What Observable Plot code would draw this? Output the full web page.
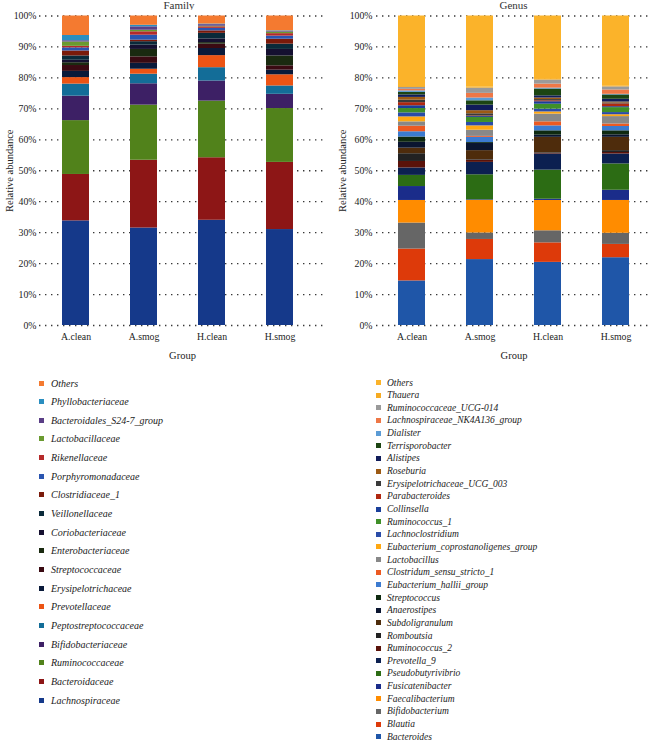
<!DOCTYPE html>
<html>
<head>
<meta charset="utf-8">
<script src="https://cdn.jsdelivr.net/npm/d3@7"></script>
<script src="https://cdn.jsdelivr.net/npm/@observablehq/plot@0.6"></script>
<style>
  body { margin: 0; background: #fff; font-family: "Liberation Serif", "DejaVu Serif", serif; }
  #root { position: relative; width: 652px; height: 744px; overflow: hidden; background: #fff; }
  .panel { position: absolute; top: 0; width: 326px; height: 365px; }
  .title { position: absolute; top: 0; height: 10px; font-size: 11px; line-height: 10px; text-align: center; color: #333; }
  .chart { position: absolute; top: 10px; left: 0; }
  .chart g[aria-label$="axis label"], .chart g[aria-label$="axis label"] text { font-size: 10.5px !important; }
  .item { position: absolute; white-space: nowrap; font-style: italic; color: #222; display: flex; align-items: center; }
  .sw { display: inline-block; flex: none; }
</style>
</head>
<body>
<div id="root">
  <div class="panel" id="left" style="left:0"></div>
  <div class="panel" id="right" style="left:326px"></div>
  <div id="legendL"></div>
  <div id="legendR"></div>
</div>
<script>
// ---------- data ----------
const groups = ["A.clean", "A.smog", "H.clean", "H.smog"];
const yTicks = [0, 10, 20, 30, 40, 50, 60, 70, 80, 90, 100];

// Family level (legend order, top of stack first)
const familyNames = [
  "Others", "Phyllobacteriaceae", "Bacteroidales_S24-7_group", "Lactobacillaceae",
  "Rikenellaceae", "Porphyromonadaceae", "Clostridiaceae_1", "Veillonellaceae",
  "Coriobacteriaceae", "Enterobacteriaceae", "Streptococcaceae", "Erysipelotrichaceae",
  "Prevotellaceae", "Peptostreptococcaceae", "Bifidobacteriaceae", "Ruminococcaceae",
  "Bacteroidaceae", "Lachnospiraceae"
];
const familyColors = [
  "#f47a30", "#2a8ec0", "#5a3e86", "#6a9a30", "#b52a2a", "#2a55b0", "#7a1a0a", "#0a2a3a",
  "#151030", "#1a2a10", "#3a0a12", "#0a1a3a", "#ec5414", "#136d98", "#3d2065", "#51821b",
  "#8d1616", "#15398a"
];
const famAclean = [6.3, 1.7, 0.4, 1.4, 0.5, 1.0, 1.6, 1.4, 0.8, 0.9, 1.9, 2.0, 2.1, 3.9, 7.9, 17.4, 15.0, 33.8];
const famAsmog  = [3.0, 0.5, 1.1, 0.5, 1.1, 1.6, 0.5, 1.1, 1.4, 2.4, 2.1, 1.9, 1.6, 3.1, 6.9, 17.8, 21.9, 31.5];
const famHclean = [2.6, 0.2, 0.5, 0.2, 0.5, 0.8, 0.8, 1.8, 1.2, 0.5, 1.4, 2.3, 3.9, 4.3, 6.5, 18.3, 20.2, 34.0];
const famHsmog  = [4.8, 0.2, 0.2, 0.5, 0.8, 1.0, 1.6, 1.7, 2.1, 3.2, 1.4, 1.5, 3.6, 2.7, 4.6, 17.4, 21.7, 31.0];

// Genus level (legend order, top of stack first)
const genusNames = [
  "Others", "Thauera", "Ruminococcaceae_UCG-014", "Lachnospiraceae_NK4A136_group", "Dialister",
  "Terrisporobacter", "Alistipes", "Roseburia", "Erysipelotrichaceae_UCG_003", "Parabacteroides",
  "Collinsella", "Ruminococcus_1", "Lachnoclostridium", "Eubacterium_coprostanoligenes_group",
  "Lactobacillus", "Clostridum_sensu_stricto_1", "Eubacterium_hallii_group", "Streptococcus",
  "Anaerostipes", "Subdoligranulum", "Romboutsia", "Ruminococcus_2", "Prevotella_9",
  "Pseudobutyrivibrio", "Fusicatenibacter", "Faecalibacterium", "Bifidobacterium", "Blautia",
  "Bacteroides"
];
const genusColors = [
  "#fbb32a", "#f6ab22", "#9a9a9a", "#ee7746", "#5b9bd5", "#1c4513", "#101c5a", "#9c5a14",
  "#3a3a3a", "#b02810", "#1a3f9a", "#3f8f28", "#2a4ca8", "#ffa812", "#888888", "#ec5a22",
  "#3c7bd0", "#0f2a10", "#0a1530", "#4e2c0c", "#222222", "#5a120a", "#0c2050", "#2c6c14",
  "#1a2c8a", "#ff8c00", "#666666", "#dd3a0a", "#1f56a8"
];
const genAclean = [22.8, 0.3, 0.6, 0.5, 0.5, 0.8, 0.8, 0.9, 0.8, 1.0, 0.9, 1.4, 1.3, 1.6, 1.4, 1.8, 1.7, 1.7, 1.9, 1.8, 2.5, 2.1, 2.4, 3.6, 4.5, 7.3, 8.4, 10.3, 14.4];
const genAsmog  = [23.0, 0.3, 1.7, 1.5, 0.9, 1.4, 1.8, 1.0, 0.7, 0.2, 0.3, 1.6, 1.1, 1.4, 2.0, 0.3, 1.7, 0.3, 2.3, 2.9, 0.2, 0.7, 4.0, 8.1, 0.2, 10.5, 2.1, 6.5, 21.3];
const genHclean = [20.5, 0.2, 1.3, 1.3, 0.3, 2.2, 0.7, 0.5, 0.4, 0.3, 0.8, 1.6, 0.9, 0.7, 2.5, 1.3, 1.6, 1.4, 0.7, 5.0, 0.2, 0.2, 5.2, 9.4, 0.4, 9.8, 3.9, 6.3, 20.4];
const genHsmog  = [22.7, 0.2, 1.0, 1.4, 0.2, 1.4, 0.9, 0.3, 0.3, 0.9, 0.3, 1.6, 0.7, 0.6, 2.4, 0.8, 1.4, 1.3, 0.8, 4.3, 0.6, 0.5, 3.2, 8.5, 3.3, 10.6, 3.6, 4.3, 21.9];

// ---------- build tidy tables (bottom of stack first) ----------
function tidy(names, series) {
  const rows = [];
  groups.forEach((g, gi) => {
    for (let i = names.length - 1; i >= 0; i--) {
      rows.push({group: g, taxon: names[i], value: series[gi][i]});
    }
  });
  return rows;
}
const familyData = tidy(familyNames, [famAclean, famAsmog, famHclean, famHsmog]);
const genusData = tidy(genusNames, [genAclean, genAsmog, genHclean, genHsmog]);

const font = "'Liberation Serif', 'DejaVu Serif', serif";

function chart(data, names, colors, opts) {
  return Plot.plot({
    width: 326,
    height: 355,
    marginTop: 5.5,
    marginBottom: 40,
    marginLeft: opts.marginLeft,
    marginRight: 1,
    style: {fontFamily: font, fontSize: "9.8px", color: "#222", background: "white", overflow: "visible"},
    x: {
      domain: groups,
      paddingInner: 0.61,
      paddingOuter: opts.po,
      align: opts.align,
      label: "Group",
      labelArrow: false,
      labelAnchor: "center",
      labelOffset: 33,
      tickSize: 0,
      tickPadding: 8
    },
    y: {
      domain: [0, 100],
      ticks: yTicks,
      tickFormat: d => d + "%",
      label: "Relative abundance",
      labelArrow: false,
      labelAnchor: "center",
      labelOffset: opts.labelOffset,
      tickSize: 0,
      tickPadding: opts.tickPadding
    },
    color: {domain: names, range: colors},
    marks: [
      Plot.gridY(yTicks, {stroke: "#222", strokeOpacity: 0.9, strokeDasharray: "1.4,4.6", strokeWidth: 1.3}),
      Plot.barY(data, {x: "group", y: "value", fill: "taxon"})
    ]
  });
}

function panel(id, title, titleLeft, titleWidth, node) {
  const el = document.getElementById(id);
  const t = document.createElement("div");
  t.className = "title";
  t.style.left = titleLeft + "px";
  t.style.width = titleWidth + "px";
  t.textContent = title;
  el.appendChild(t);
  const c = document.createElement("div");
  c.className = "chart";
  c.appendChild(node);
  el.appendChild(c);
}

panel("left", "Family", 39, 280,
  chart(familyData, familyNames, familyColors, {marginLeft: 39, po: 0.3775, align: 0.41, labelOffset: 34, tickPadding: 3}));
panel("right", "Genus", 50, 275,
  chart(genusData, genusNames, genusColors, {marginLeft: 50, po: 0.298, align: 0.5, labelOffset: 38, tickPadding: 4}));

function legend(id, names, colors, x0, y0, step, fontSize, sw, gap) {
  const el = document.getElementById(id);
  names.forEach((n, i) => {
    const it = document.createElement("div");
    it.className = "item";
    it.style.left = x0 + "px";
    it.style.top = (y0 + i * step - 6) + "px";
    it.style.height = "12px";
    it.style.fontSize = fontSize + "px";
    const s = document.createElement("span");
    s.className = "sw";
    s.style.width = sw + "px";
    s.style.height = sw + "px";
    s.style.background = colors[i];
    s.style.marginRight = gap + "px";
    it.appendChild(s);
    it.appendChild(document.createTextNode(n));
    el.appendChild(it);
  });
}
legend("legendL", familyNames, familyColors, 39, 383, 18.65, 10, 5, 7);
legend("legendR", genusNames, genusColors, 376, 382.5, 12.65, 9.5, 5, 6);
</script>
</body>
</html>
